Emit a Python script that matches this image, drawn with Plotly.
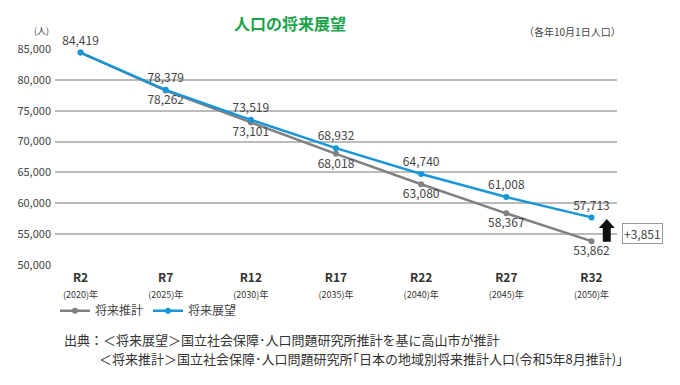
import plotly.graph_objects as go

categories = ["R2", "R7", "R12", "R17", "R22", "R27", "R32"]
years = ["(2020)年", "(2025)年", "(2030)年", "(2035)年", "(2040)年", "(2045)年", "(2050)年"]
tenbo = [84419, 78379, 73519, 68932, 64740, 61008, 57713]   # 将来展望
suikei = [84419, 78262, 73101, 68018, 63080, 58367, 53862]  # 将来推計
yticks = [50000, 55000, 60000, 65000, 70000, 75000, 80000, 85000]

FONT = "Noto Sans CJK JP"
BLUE = "#1996d8"
GRAY = "#808080"

xs = list(range(len(categories)))
ticktext = [f"<b>{c}</b><br><span style='font-size:9px'>{y}</span>" for c, y in zip(categories, years)]

fig = go.Figure()
fig.add_trace(go.Scatter(
    x=xs, y=suikei, mode="lines+markers+text", name="将来推計",
    line=dict(color=GRAY, width=2.5), marker=dict(size=6, color=GRAY),
    text=[""] + [f"{v:,}" for v in suikei[1:]], textposition="bottom center",
    textfont=dict(size=12, color="#444"), cliponaxis=False,
))
fig.add_trace(go.Scatter(
    x=xs, y=tenbo, mode="lines+markers+text", name="将来展望",
    line=dict(color=BLUE, width=2.5), marker=dict(size=6, color=BLUE),
    text=[f"{v:,}" for v in tenbo], textposition="top center",
    textfont=dict(size=12, color="#444"), cliponaxis=False,
))

diff = tenbo[-1] - suikei[-1]

# thick up-arrow showing the gap at the last point
ax_c, hw, sw = 6.18, 0.094, 0.047
y_bot = suikei[-1] - 100
y_tip = tenbo[-1] - 250
y_base = y_tip - 1450
arrow_path = (f"M {ax_c-sw},{y_bot} L {ax_c-sw},{y_base} L {ax_c-hw},{y_base} L {ax_c},{y_tip} "
              f"L {ax_c+hw},{y_base} L {ax_c+sw},{y_base} L {ax_c+sw},{y_bot} Z")
fig.add_shape(type="path", path=arrow_path, xref="x", yref="y", fillcolor="#111",
              line=dict(width=0), layer="above")

fig.add_annotation(x=1.046, y=0.148, xref="paper", yref="paper", text=f"+{diff:,}", showarrow=False,
                   xanchor="center", yanchor="middle",
                   font=dict(size=12, color="#444", family=FONT), bordercolor="#999", borderwidth=1,
                   borderpad=1, bgcolor="white")

fig.add_annotation(x=0.418, y=1.12, xref="paper", yref="paper", text="<b>人口の将来展望</b>",
                   yanchor="middle", showarrow=False, font=dict(size=16, color="#1aa34a", family=FONT))
fig.add_annotation(x=1.01, y=1.079, xref="paper", yref="paper", xanchor="right", yanchor="middle",
                   text="（各年10月1日人口）", showarrow=False, font=dict(size=10, color="#444", family=FONT))
fig.add_annotation(x=-0.041, y=1.047, xref="paper", yref="paper", yanchor="bottom", text="(人)",
                   showarrow=False, font=dict(size=9, color="#444", family=FONT))
fig.add_annotation(x=0.012, y=-0.347, xref="paper", yref="paper", xanchor="left", yanchor="middle",
                   text="出典：＜将来展望＞国立社会保障･人口問題研究所推計を基に高山市が推計",
                   showarrow=False, font=dict(size=13, color="#333", family=FONT))
fig.add_annotation(x=0.075, y=-0.431, xref="paper", yref="paper", xanchor="left", yanchor="middle",
                   text="＜将来推計＞国立社会保障･人口問題研究所｢日本の地域別将来推計人口(令和5年8月推計)｣",
                   showarrow=False, font=dict(size=13, color="#333", family=FONT))

# page body has an 8px margin: compensate so the plot sits where the reference does
fig.update_layout(
    width=672, height=377, margin=dict(l=47, r=63, t=41, b=120),
    paper_bgcolor="white", plot_bgcolor="white",
    font=dict(family=FONT, color="#444"),
    showlegend=True,
    legend=dict(orientation="h", x=0.0, y=-0.212, xanchor="left", yanchor="middle",
                font=dict(size=12, color="#444"), itemwidth=30, bgcolor="rgba(0,0,0,0)",
                tracegroupgap=0),
    xaxis=dict(range=[-0.3, 6.3], tickvals=xs, ticktext=ticktext, showgrid=False,
               zeroline=False, showline=False, ticks="", tickfont=dict(size=12, color="#333"),
               ticklabelstandoff=4, automargin=False),
    yaxis=dict(range=[50000, 85000], tickvals=yticks, tickformat=",", showgrid=True,
               gridcolor="#bbbbbb", gridwidth=1.5, zeroline=False, showline=False,
               tickfont=dict(size=11, color="#444"), ticks="", ticklabelstandoff=3, automargin=False),
)

fig.write_html("out.html")
